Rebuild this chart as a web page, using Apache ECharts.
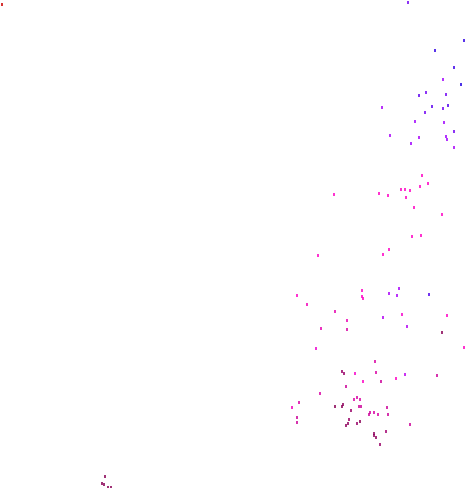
<!DOCTYPE html>
<html>
<head>
<meta charset="utf-8">
<script src="https://cdn.jsdelivr.net/npm/echarts@6/dist/echarts.min.js"></script>
<style>html,body{margin:0;padding:0;background:#fff}#c{width:465px;height:488px}</style>
</head>
<body>
<div id="c"></div>
<script>
// x positions (horizontal value), y positions (vertical value, grows downward), colour value
const xs = [2,408,464,435,454,443,461,426,419,446,382,432,443,448,425,415,444,454,390,419,446,447,411,454,
  422,428,420,334,379,388,401,405,410,406,414,442,412,421,389,383,318,
  297,362,362,363,389,399,397,429,307,335,347,347,321,383,402,407,447,442,316,375,464,
  342,344,355,376,396,405,346,363,381,320,299,292,335,342,343,354,357,360,359,361,351,387,370,369,374,378,388,297,297,349,348,346,357,360,410,386,374,374,376,380,
  437,105,102,104,108,111];
const ys = [4,2,40,50,67,79,84,92,95,94,107,106,108,105,112,121,122,131,135,137,136,139,143,147,
  175,183,186,194,193,195,189,189,190,197,207,214,236,235,249,254,255,
  295,290,296,298,293,288,295,294,304,311,320,329,328,317,314,326,315,332,348,361,347,
  371,373,373,372,378,374,386,381,381,393,402,407,406,406,404,399,397,399,406,406,410,407,412,414,412,414,414,417,422,419,423,425,423,421,424,431,433,435,437,444,
  375,476,483,484,487,487];
const cs = [0,87,97,97,95,80,99,87,90,87,78,90,87,92,87,80,80,87,78,78,80,80,80,78,
  60,60,60,60,60,60,60,60,60,60,60,60,60,60,60,60,60,
  60,60,60,60,78,78,78,92,55,50,52,45,50,76,62,76,60,20,64,45,60,
  25,25,62,45,60,74,40,60,40,45,45,55,20,20,22,45,45,45,40,40,25,40,42,40,45,45,40,40,40,25,22,22,25,20,40,28,22,22,22,25,
  40,20,20,20,20,20];

const data = xs.map((x, i) => [x, ys[i], cs[i]]);
const chart = echarts.init(document.getElementById('c'), null, {renderer: 'canvas'});
chart.setOption({
  animation: false,
  backgroundColor: '#fff',
  grid: {left: 0, right: 0, top: 0, bottom: 0},
  xAxis: {type: 'value', min: 0, max: 465, show: false},
  yAxis: {type: 'value', min: 0, max: 488, inverse: true, show: false},
  visualMap: {
    show: false, type: 'continuous', dimension: 2, min: 0, max: 100,
    inRange: {color: ['#cc0000', '#880055', '#cc0099', '#ff00c4', '#a000ff', '#1a00e0']}
  },
  series: [{
    type: 'scatter',
    symbol: 'rect',
    symbolSize: [2, 3],
    symbolOffset: [0, 0.5],
    data: data
  }]
});
</script>
</body>
</html>
